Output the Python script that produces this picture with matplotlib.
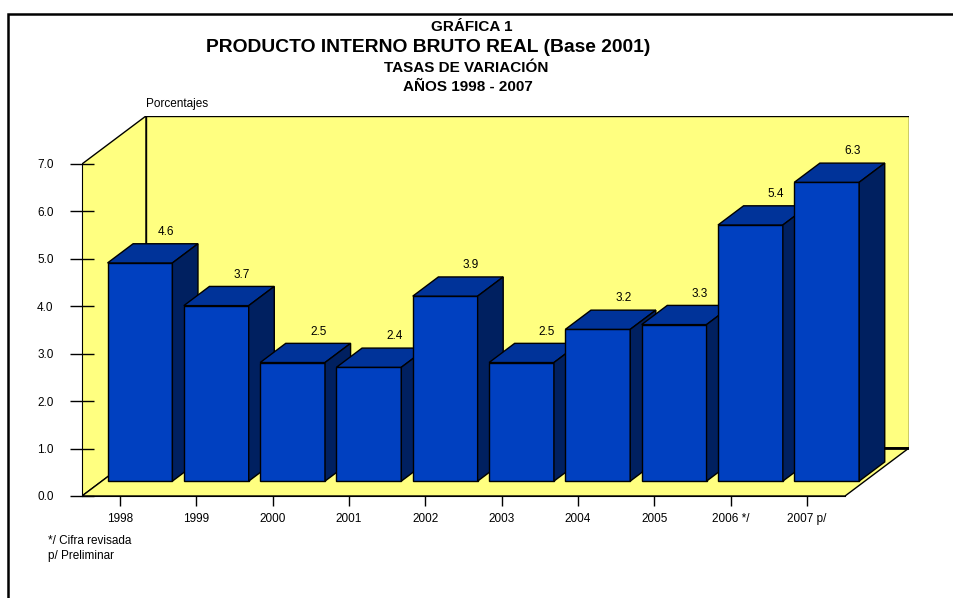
import matplotlib
matplotlib.use("Agg")
import matplotlib.pyplot as plt
import numpy as np
from matplotlib.patches import Polygon, Rectangle

plt.rcParams['font.family'] = ['Liberation Sans', 'DejaVu Sans']

# data
years = ['1998', '1999', '2000', '2001', '2002', '2003', '2004', '2005', '2006 */', '2007 p/']
pib = [4.6, 3.7, 2.5, 2.4, 3.9, 2.5, 3.2, 3.3, 5.4, 6.3]
yticks = [0, 1, 2, 3, 4, 5, 6, 7]

# fake 3d look (depth offsets in data units)
DX = 0.838
DY = 1.012
FRONT = 0.31
DEPTH = 0.40
WIDTH = 0.85
YMAX = 7.0

WALL = '#FFFF80'
C_FRONT = '#0040C0'
C_TOP = '#003399'
C_SIDE = '#002060'

W, H = 954, 598
fig = plt.figure(figsize=(W / 100, H / 100), dpi=100)
ax = fig.add_axes([82 / W, 1 - 496 / H, (909 - 82) / W, (496 - 116) / H])
n = len(years)
x0, x1 = -0.5, n - 0.5
ax.set_xlim(x0, x1 + DX)
ax.set_ylim(0, YMAX + DY)
ax.patch.set_visible(False)

# walls
back = Polygon([(x0 + DX, DY), (x1 + DX, DY), (x1 + DX, YMAX + DY), (x0 + DX, YMAX + DY)],
               closed=True, fc=WALL, ec='black', lw=1, zorder=1)
left = Polygon([(x0, 0), (x0 + DX, DY), (x0 + DX, YMAX + DY), (x0, YMAX)],
               closed=True, fc=WALL, ec='black', lw=1, zorder=1)
floor = Polygon([(x0, 0), (x1, 0), (x1 + DX, DY), (x0 + DX, DY)],
                closed=True, fc=WALL, ec='black', lw=1, zorder=1)
for p in (back, left, floor):
    ax.add_patch(p)
ax.plot([x0 + DX, x1 + DX], [DY, DY], color='black', lw=2, zorder=1.5, solid_capstyle='butt')

# bars
for i, v in enumerate(pib):
    fx = i - WIDTH / 2 + FRONT * DX
    fy = FRONT * DY
    dx, dy = DEPTH * DX, DEPTH * DY
    z = 2 + i
    front = Polygon([(fx, fy), (fx + WIDTH, fy), (fx + WIDTH, fy + v), (fx, fy + v)],
                    closed=True, fc=C_FRONT, ec='black', lw=1, zorder=z)
    top = Polygon([(fx, fy + v), (fx + WIDTH, fy + v), (fx + WIDTH + dx, fy + v + dy), (fx + dx, fy + v + dy)],
                  closed=True, fc=C_TOP, ec='black', lw=1, zorder=z)
    side = Polygon([(fx + WIDTH, fy), (fx + WIDTH + dx, fy + dy), (fx + WIDTH + dx, fy + v + dy), (fx + WIDTH, fy + v)],
                   closed=True, fc=C_SIDE, ec='black', lw=1, zorder=z)
    for p in (front, top, side):
        ax.add_patch(p)
    ax.annotate('%.1f' % v, (i + (FRONT + DEPTH) * DX, v + (FRONT + DEPTH) * DY),
                xytext=(0, 8.5), textcoords='offset points', ha='center', va='center',
                fontsize=8.5, zorder=20)

# axes
for s in ('top', 'right'):
    ax.spines[s].set_visible(False)
ax.spines['left'].set_bounds(0, YMAX)
ax.spines['bottom'].set_bounds(x0, x1)
ax.spines['left'].set_zorder(30)
ax.spines['bottom'].set_zorder(30)
ax.set_yticks(yticks)
ax.set_yticklabels(['%.1f' % t for t in yticks])
ax.set_xticks(range(n))
ax.set_xticklabels(years)
ax.tick_params(axis='y', direction='inout', length=17, width=1, pad=12, labelsize=8.5)
ax.tick_params(axis='x', direction='out', length=7, width=1, pad=5, labelsize=8.5)

fig.text(146 / W, 1 - 104 / H, 'Porcentajes', fontsize=8.5, ha='left', va='center')

# titles
fig.text(472 / W, 1 - 27 / H, 'GRÁFICA 1', ha='center', va='center', fontsize=11, fontweight='bold')
fig.text(428 / W, 1 - 47 / H, 'PRODUCTO INTERNO BRUTO REAL (Base 2001)', ha='center', va='center',
         fontsize=13.9, fontweight='bold')
fig.text(466 / W, 1 - 68 / H, 'TASAS DE VARIACIÓN', ha='center', va='center', fontsize=11, fontweight='bold')
fig.text(468 / W, 1 - 87 / H, 'AÑOS 1998 - 2007', ha='center', va='center', fontsize=11, fontweight='bold')

fig.text(48 / W, 1 - 541 / H, '*/ Cifra revisada', ha='left', va='center', fontsize=8.5)
fig.text(48 / W, 1 - 556 / H, 'p/ Preliminar', ha='left', va='center', fontsize=8.5)

# outer frame
fig.patches.append(Rectangle((8 / W, -0.1), 1.1, 1.1 - 14 / H, transform=fig.transFigure,
                             fill=False, ec='black', lw=1.8))

fig.savefig('out.png', dpi=100)
